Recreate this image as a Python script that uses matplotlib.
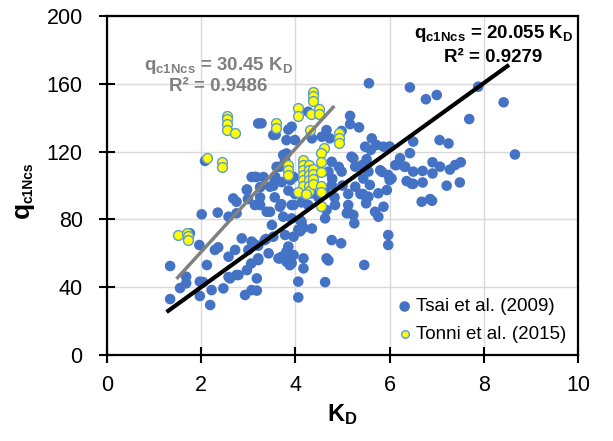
import matplotlib.pyplot as plt
import numpy as np

plt.rcParams['font.family'] = 'Liberation Sans'
plt.rcParams['mathtext.fontset'] = 'custom'
plt.rcParams['mathtext.rm'] = 'Liberation Sans'
plt.rcParams['mathtext.bf'] = 'Liberation Sans:bold'
plt.rcParams['mathtext.it'] = 'Liberation Sans:italic'

# Tsai et al. (2009) - KD vs qc1Ncs
tsai_kd = [1.34, 1.34, 1.55, 1.68, 1.68, 1.76, 1.96, 1.97, 2.04, 1.97, 2.12, 2.19, 2.22,
           2.01, 2.08, 2.35, 2.58, 2.75, 2.29, 2.36, 2.47, 2.58, 2.58, 2.61, 2.72, 2.75,
           2.79, 2.86, 2.93, 2.97, 3.00, 3.07, 3.07, 3.10, 3.18, 3.21, 3.06, 2.75, 2.68,
           2.97, 3.14, 3.14, 3.07, 3.17, 3.25, 3.32, 3.21, 3.28, 3.53, 3.58, 3.85, 3.92,
           3.81, 3.99, 3.81, 3.74, 3.78, 3.67, 3.60, 3.57, 3.71, 3.53, 3.46, 3.56, 3.89,
           3.96, 3.85, 3.99, 3.56, 3.70, 3.25, 3.25, 3.39, 3.46, 3.67, 3.92, 3.96, 4.27,
           4.13, 4.35, 4.49, 3.74, 3.92, 3.50, 4.10, 4.13, 4.17, 4.06, 4.10, 4.35, 3.53,
           3.35, 3.38, 3.21, 3.43, 3.21, 3.64, 3.67, 3.71, 3.81, 3.85, 3.85, 3.78, 3.96,
           3.96, 3.81, 3.88, 3.92, 4.17, 4.17, 4.06, 4.06, 3.18, 4.63, 4.66, 4.70, 4.77,
           4.97, 4.63, 4.66, 4.84, 5.12, 5.09, 5.12, 5.23, 5.25, 5.50, 5.69, 5.76, 5.87,
           5.55, 5.43, 5.97, 5.97, 5.46, 4.27, 4.35, 4.56, 4.66, 4.73, 4.98, 5.16, 5.16,
           5.35, 5.62, 5.72, 5.87, 6.00, 5.48, 5.60, 5.19, 5.23, 5.51, 5.27, 5.41, 5.52,
           5.55, 5.80, 5.44, 4.98, 4.92, 4.77, 4.70, 4.78, 4.77, 5.00, 5.27, 5.38, 5.50,
           5.12, 4.63, 4.83, 5.58, 5.76, 5.94, 5.97, 5.84, 6.04, 6.00, 6.36, 6.50, 6.47,
           6.70, 7.21, 7.49, 6.68, 6.86, 6.90, 6.22, 6.15, 6.32, 6.33, 6.12, 6.50, 6.70,
           6.91, 7.07, 6.91, 7.28, 7.39, 7.51, 6.50, 6.43, 7.06, 7.25, 7.69, 8.66, 5.56,
           6.43, 6.77, 7.00, 7.88, 8.42, 2.99, 2.97]
tsai_q = [52.5, 33.0, 39.5, 42.3, 46.2, 71.8, 64.9, 43.3, 43.0, 34.8, 53.1, 29.5, 38.3,
          83.0, 114.5, 84.0, 81.6, 83.6, 62.0, 63.5, 39.3, 58.0, 46.0, 45.2, 62.0, 47.2,
          47.2, 68.8, 35.4, 50.1, 62.0, 66.9, 38.3, 66.0, 45.2, 56.0, 54.0, 90.4, 92.4,
          97.3, 88.5, 105.1, 105.0, 105.0, 99.0, 105.0, 136.6, 136.7, 129.8, 130.0, 133.0, 134.7,
          126.8, 126.8, 118.9, 118.0, 115.0, 111.1, 111.0, 105.1, 102.0, 99.8, 99.3, 102.0, 103.2,
          105.0, 97.0, 95.0, 93.0, 89.0, 93.0, 88.5, 84.5, 84.5, 87.5, 88.5, 88.5, 88.5,
          90.0, 95.4, 93.0, 81.6, 80.6, 76.7, 79.6, 78.6, 75.0, 74.0, 73.0, 74.6, 69.8,
          67.8, 68.5, 64.5, 60.0, 57.0, 57.0, 57.0, 58.0, 61.0, 60.0, 64.0, 70.8, 69.8,
          59.0, 55.0, 53.0, 54.1, 57.0, 51.1, 43.3, 34.0, 38.0, 43.0, 57.0, 55.8, 67.8,
          65.9, 80.6, 85.5, 88.5, 88.5, 83.6, 84.5, 82.6, 77.7, 89.5, 84.5, 81.6, 87.5,
          93.4, 95.0, 70.8, 64.9, 53.1, 143.5, 127.8, 128.8, 132.7, 127.8, 132.2, 141.1, 136.2,
          134.3, 127.8, 123.9, 122.9, 123.0, 122.9, 121.0, 117.0, 116.1, 115.5, 111.1, 112.0, 112.0,
          108.2, 109.0, 104.1, 108.2, 111.0, 114.0, 108.2, 104.0, 100.3, 100.0, 99.3, 95.0, 93.0,
          95.0, 97.0, 93.0, 100.3, 95.4, 97.3, 106.2, 108.0, 104.1, 103.2, 102.6, 101.0, 101.0,
          101.8, 99.9, 101.8, 90.4, 92.0, 91.0, 116.1, 112.1, 111.0, 111.1, 112.0, 108.2, 108.6,
          113.7, 111.1, 107.1, 109.4, 112.1, 113.7, 125.9, 119.1, 126.8, 124.8, 139.2, 118.3, 160.3,
          157.9, 150.9, 153.4, 158.3, 149.1, 92.0, 97.7]

# Tonni et al. (2015)
tonni_kd = [1.50, 1.70, 1.72, 1.72, 2.12, 2.45, 2.45, 2.55, 2.55, 2.55, 2.55, 2.72,
            3.58, 3.58, 4.05, 4.05, 4.38, 4.38, 4.38, 4.32, 4.50, 4.50, 4.30, 4.92,
            4.92, 4.92, 4.60, 4.55, 4.55, 3.85, 3.85, 3.85, 4.15, 4.15, 4.15, 4.15,
            4.15, 4.15, 4.28, 4.28, 4.28, 4.28, 4.28, 4.28, 4.38, 4.38, 4.38, 4.38,
            4.55, 4.55, 4.55, 4.05, 4.22, 4.55]
tonni_q = [71, 72, 70, 68, 116, 114, 111, 141, 139, 136, 133, 131,
           137, 134, 146, 141, 155, 153, 150, 142, 145, 142, 133, 131,
           128, 125, 122, 119, 114, 112, 109, 106, 115, 112, 109, 106,
           103, 100, 112, 109, 106, 103, 100, 97, 110, 107, 104, 101,
           108, 100, 96, 96, 95, 88]

# fitted lines through origin
tsai_slope = 20.055
tonni_slope = 30.45
tsai_fit_kd = np.array([1.3, 8.5])
tonni_fit_kd = np.array([1.5, 4.8])

fig = plt.figure(figsize=(6.13, 4.41), dpi=100)
ax = fig.add_axes([0.1746, 0.195, 0.7684, 0.7687])

ax.scatter(tsai_kd, tsai_q, s=58, color='#4472C4', edgecolors='none',
           label='Tsai et al. (2009)', zorder=3)
ax.scatter(tonni_kd, tonni_q, s=50, color='#FFFF00', edgecolors='#5B9BD5',
           linewidths=1, label='Tonni et al. (2015)', zorder=4)
ax.plot(tsai_fit_kd, tsai_slope * tsai_fit_kd, color='black', lw=3, zorder=5)
ax.plot(tonni_fit_kd, tonni_slope * tonni_fit_kd, color='#808080', lw=2.5, zorder=5)

ax.set_xlim(0, 10)
ax.set_ylim(0, 200)
ax.set_xticks(range(0, 11, 2))
ax.set_yticks(range(0, 201, 40))
ax.grid(color='#D9D9D9', lw=1)
ax.set_axisbelow(True)
for s in ax.spines.values():
    s.set_linewidth(1.6)
ax.tick_params(direction='inout', length=11, width=1.5, labelsize=15.5)
ax.tick_params(axis='y', pad=12)
ax.tick_params(axis='x', pad=9)

ax.set_xlabel(r'$\mathbf{K_D}$', fontsize=17, labelpad=4)
# y label: big q with small subscript
fig.text(0.036, 0.524, 'q', rotation=90, fontsize=19, fontweight='bold',
         ha='center', va='center')
fig.text(0.047, 0.585, 'c1Ncs', rotation=90, fontsize=10, fontweight='bold',
         ha='center', va='center')

# equations
ax.text(2.37, 168, r'$\mathbf{q_{c1Ncs}}$ = 30.45 K$_\mathbf{D}$', color='#808080',
        fontsize=13.5, fontweight='bold', ha='center', va='baseline')
ax.text(2.37, 156, 'R² = 0.9486', color='#808080',
        fontsize=13.5, fontweight='bold', ha='center', va='baseline')
ax.text(8.2, 187, r'$\mathbf{q_{c1Ncs}}$ = 20.055 K$_\mathbf{D}$', color='black',
        fontsize=13.5, fontweight='bold', ha='center', va='baseline')
ax.text(8.2, 173, 'R² = 0.9279', color='black',
        fontsize=13.5, fontweight='bold', ha='center', va='baseline')

leg = ax.legend(loc='upper left', bbox_to_anchor=(0.6, 0.195), frameon=False,
                fontsize=13.5, handlelength=0.6, handletextpad=0.3,
                labelspacing=0.55, borderpad=0)
leg.legend_handles[1].set_sizes([30])

fig.savefig('out.png', dpi=100)
